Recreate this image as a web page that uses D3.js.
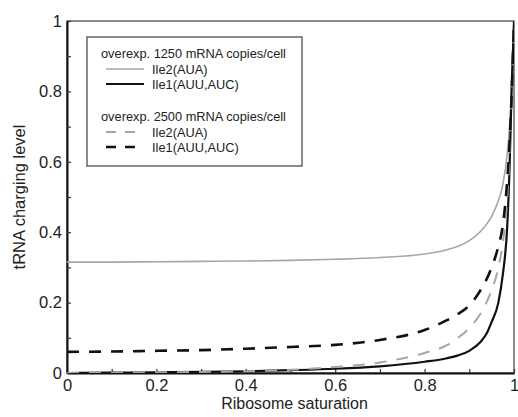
<!DOCTYPE html>
<html>
<head>
<meta charset="utf-8">
<script src="https://cdn.jsdelivr.net/npm/d3@7"></script>
<style>
    body { margin: 0; background: #fff; }
    text { font-family: "Liberation Sans", Arial, sans-serif; fill: #222; }
</style>
</head>
<body>
<div id="viz"></div>
<script>
const saturation = [0, 0.1, 0.2, 0.3, 0.4, 0.5, 0.6, 0.7, 0.8, 0.85, 0.875, 0.9, 0.925, 0.94, 0.95, 0.965, 0.975, 0.985, 0.99, 0.995, 1.0];
const ile2_1250 = [0.315, 0.315, 0.316, 0.317, 0.318, 0.32, 0.323, 0.328, 0.338, 0.35, 0.36, 0.376, 0.402, 0.425, 0.445, 0.49, 0.535, 0.625, 0.70, 0.82, 1.0];
const ile1_1250 = [0.0, 0.001, 0.002, 0.003, 0.005, 0.008, 0.012, 0.019, 0.032, 0.042, 0.05, 0.063, 0.088, 0.115, 0.145, 0.2, 0.28, 0.42, 0.58, 0.82, 1.0];
const ile2_2500 = [0.0, 0.001, 0.002, 0.003, 0.005, 0.009, 0.017, 0.03, 0.057, 0.079, 0.1, 0.128, 0.168, 0.205, 0.235, 0.3, 0.37, 0.5, 0.62, 0.8, 1.0];
const ile1_2500 = [0.06, 0.061, 0.063, 0.065, 0.069, 0.074, 0.08, 0.094, 0.122, 0.15, 0.168, 0.192, 0.235, 0.27, 0.3, 0.36, 0.42, 0.55, 0.65, 0.8, 1.0];

const xTicks = [0, 0.2, 0.4, 0.6, 0.8, 1];
const yTicks = [0, 0.2, 0.4, 0.6, 0.8, 1];
const minorTicks = d3.range(0, 1.0001, 0.1);

const seriesList = [
    { name: 'Ile2(AUA)', values: ile2_1250, color: '#a6a6a6', width: 1.6, dash: null },
    { name: 'Ile1(AUU,AUC)', values: ile1_1250, color: '#111', width: 2.2, dash: null },
    { name: 'Ile2(AUA)', values: ile2_2500, color: '#a6a6a6', width: 2, dash: '12,10' },
    { name: 'Ile1(AUU,AUC)', values: ile1_2500, color: '#111', width: 2.6, dash: '12,10' }
];
const legendGroups = ['overexp. 1250 mRNA copies/cell', 'overexp. 2500 mRNA copies/cell'];

const width = 518;
const height = 417;
const margin = { left: 67, right: 4, top: 21, bottom: 44 };

const svg = d3.select('#viz')
              .append('svg')
              .attr('width', width)
              .attr('height', height);

const xScale = d3.scaleLinear().domain([0, 1]).range([margin.left, width - margin.right]);
const yScale = d3.scaleLinear().domain([0, 1]).range([height - margin.bottom, margin.top]);

// frame top/right
svg.append('rect')
   .attr('x', xScale(0))
   .attr('y', yScale(1))
   .attr('width', xScale(1) - xScale(0))
   .attr('height', yScale(0) - yScale(1))
   .attr('fill', 'none')
   .attr('stroke', '#666')
   .attr('stroke-width', 1.5);

const xAxis = d3.axisBottom(xScale).tickValues(minorTicks).tickSize(-4).tickSizeOuter(0)
                .tickFormat(d => xTicks.some(t => Math.abs(t - d) < 1e-9) ? d3.format('~g')(d) : '');
const yAxis = d3.axisLeft(yScale).tickValues(minorTicks).tickSize(-4).tickSizeOuter(0)
                .tickFormat(d => yTicks.some(t => Math.abs(t - d) < 1e-9) ? d3.format('~g')(d) : '');

const gx = svg.append('g')
   .attr('transform', 'translate(0,' + yScale(0) + ')')
   .call(xAxis);
gx.select('.domain').attr('stroke', '#111').attr('stroke-width', 2);
gx.selectAll('.tick line').attr('stroke', '#333').attr('stroke-width', 1.2);
gx.selectAll('.tick text').attr('font-size', 16.5).attr('y', 2).attr('dy', '0.95em').attr('fill', '#222').style('font-family', '"Liberation Sans", Arial, sans-serif');

const gy = svg.append('g')
   .attr('transform', 'translate(' + xScale(0) + ',0)')
   .call(yAxis);
gy.select('.domain').attr('stroke', '#111').attr('stroke-width', 2);
gy.selectAll('.tick line').attr('stroke', '#333').attr('stroke-width', 1.2);
gy.selectAll('.tick text').attr('font-size', 16.5).attr('x', -5).attr('fill', '#222').style('font-family', '"Liberation Sans", Arial, sans-serif');

svg.append('text')
   .attr('x', (xScale(0) + xScale(1)) / 2 + 4)
   .attr('y', 409)
   .attr('text-anchor', 'middle')
   .attr('font-size', 16)
   .text('Ribosome saturation');

svg.append('text')
   .attr('transform', 'translate(25,' + (yScale(0.5)) + ') rotate(-90)')
   .attr('text-anchor', 'middle')
   .attr('font-size', 16.5)
   .text('tRNA charging level');

svg.append('clipPath').attr('id', 'clip')
   .append('rect')
   .attr('x', xScale(0)).attr('y', yScale(1))
   .attr('width', xScale(1) - xScale(0)).attr('height', yScale(0) - yScale(1));

const line = d3.line()
               .x((d, i) => xScale(saturation[i]))
               .y(d => yScale(d))
               .curve(d3.curveMonotoneX);

svg.append('g')
   .attr('clip-path', 'url(#clip)')
   .selectAll('path')
   .data(seriesList)
   .enter()
   .append('path')
   .attr('d', d => line(d.values))
   .attr('fill', 'none')
   .attr('stroke', d => d.color)
   .attr('stroke-width', d => d.width)
   .attr('stroke-dasharray', d => d.dash);

// legend
const legend = svg.append('g');
legend.append('rect')
      .attr('x', 87)
      .attr('y', 37)
      .attr('width', 215)
      .attr('height', 129)
      .attr('fill', '#fff')
      .attr('stroke', '#666')
      .attr('stroke-width', 1.5);

const legendRows = [
    { type: 'title', text: legendGroups[0], y: 54 },
    { type: 'item', s: seriesList[0], y: 69 },
    { type: 'item', s: seriesList[1], y: 84 },
    { type: 'title', text: legendGroups[1], y: 117 },
    { type: 'item', s: seriesList[2], y: 132 },
    { type: 'item', s: seriesList[3], y: 147 }
];

legendRows.forEach(row => {
    if (row.type === 'title') {
        legend.append('text')
              .attr('x', 101)
              .attr('y', row.y)
              .attr('dy', '0.35em')
              .attr('font-size', 12.8)
              .text(row.text);
    } else {
        legend.append('line')
              .attr('x1', 106).attr('x2', 144)
              .attr('y1', row.y).attr('y2', row.y)
              .attr('stroke', row.s.color)
              .attr('stroke-width', row.s.width)
              .attr('stroke-dasharray', row.s.dash ? '10,9' : null);
        legend.append('text')
              .attr('x', 152)
              .attr('y', row.y + 1)
              .attr('dy', '0.35em')
              .attr('font-size', 12.8)
              .text(row.s.name);
    }
});
</script>
</body>
</html>
